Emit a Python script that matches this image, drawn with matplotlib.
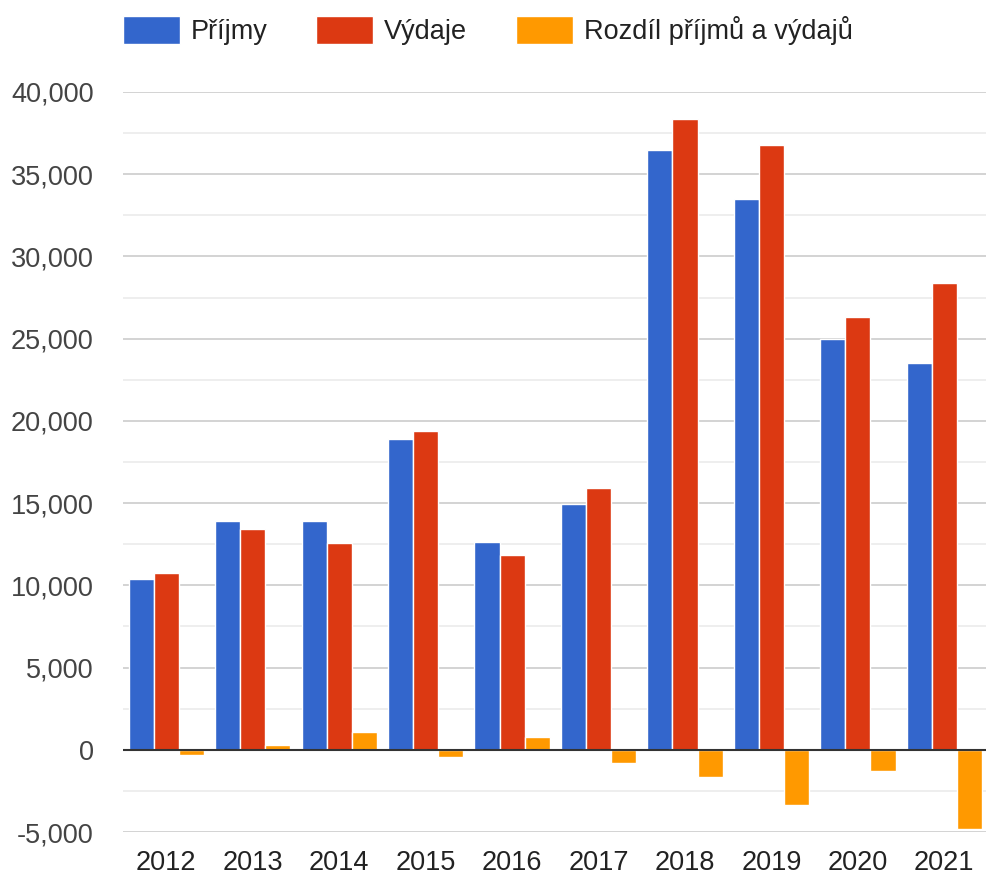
import matplotlib.pyplot as plt
from matplotlib.patches import Patch
from matplotlib.ticker import MultipleLocator, FuncFormatter
import numpy as np

plt.rcParams['font.family'] = ['Liberation Sans', 'DejaVu Sans']

years = ['2012', '2013', '2014', '2015', '2016', '2017', '2018', '2019', '2020', '2021']
prijmy = [10400, 13900, 13900, 18900, 12650, 14950, 36500, 33480, 24970, 23500]
vydaje = [10750, 13420, 12560, 19380, 11850, 15930, 38360, 36760, 26300, 28370]
rozdil = [-300, 300, 1110, -445, 750, -810, -1660, -3360, -1315, -4820]

labels = ['Příjmy', 'Výdaje', 'Rozdíl příjmů a výdajů']
colors = ['#3366CC', '#DC3912', '#FF9900']

fig = plt.figure(figsize=(9.87, 8.77), dpi=100)
ax = fig.add_axes([0.1246, 0.0513, 0.876, 0.8438])

x = np.arange(len(years))
w = 0.29
for i, vals in enumerate([prijmy, vydaje, rozdil]):
    ax.bar(x + (i - 1) * w, vals, width=w, color=colors[i],
           edgecolor='white', linewidth=1, zorder=3)

ax.set_xlim(-0.5, len(years) - 0.5)
ax.set_ylim(-5000, 40000)
ax.yaxis.set_major_locator(MultipleLocator(5000))
ax.yaxis.set_minor_locator(MultipleLocator(2500))
ax.yaxis.set_major_formatter(FuncFormatter(lambda v, p: f'{int(v):,}'))
ax.grid(axis='y', which='major', color='#cccccc', linewidth=1.2, zorder=0)
ax.grid(axis='y', which='minor', color='#ebebeb', linewidth=1.2, zorder=0)
ax.axhline(0, color='#333333', linewidth=1.5, zorder=4)

ax.set_xticks(x)
ax.set_xticklabels(years)
ax.tick_params(axis='both', which='both', length=0, labelsize=19.5)
ax.tick_params(axis='x', colors='#222222', pad=13)
ax.tick_params(axis='y', colors='#444444', pad=21)
for s in ax.spines.values():
    s.set_visible(False)

handles = [Patch(facecolor=c, edgecolor='white') for c in colors]
fig.legend(handles, labels, loc='upper left', bbox_to_anchor=(0.100, 1.01),
           ncol=3, frameon=False, fontsize=19.5, handlelength=2.1,
           handleheight=1.25, handletextpad=0.4, columnspacing=1.8,
           labelcolor='#222222')

fig.savefig('out.png', dpi=100)
